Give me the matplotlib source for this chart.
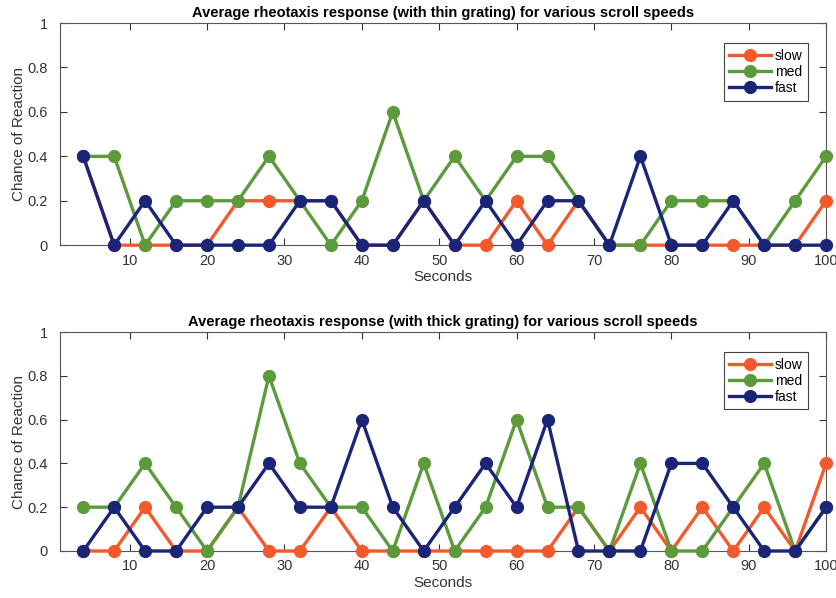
import matplotlib.pyplot as plt
import numpy as np

plt.rcParams["font.family"] = ["Liberation Sans", "DejaVu Sans"]

# time points (seconds), one sample every 4 s
seconds = np.arange(4, 101, 4)

# thin grating
thin_slow = [0.4, 0, 0, 0, 0, 0.2, 0.2, 0.2, 0.2, 0, 0, 0.2, 0, 0, 0.2, 0, 0.2,
             0, 0, 0, 0, 0, 0, 0, 0.2]
thin_med = [0.4, 0.4, 0, 0.2, 0.2, 0.2, 0.4, 0.2, 0, 0.2, 0.6, 0.2, 0.4, 0.2,
            0.4, 0.4, 0.2, 0, 0, 0.2, 0.2, 0.2, 0, 0.2, 0.4]
thin_fast = [0.4, 0, 0.2, 0, 0, 0, 0, 0.2, 0.2, 0, 0, 0.2, 0, 0.2, 0, 0.2, 0.2,
             0, 0.4, 0, 0, 0.2, 0, 0, 0]

# thick grating
thick_slow = [0, 0, 0.2, 0, 0, 0.2, 0, 0, 0.2, 0, 0, 0, 0, 0, 0, 0, 0.2, 0,
              0.2, 0, 0.2, 0, 0.2, 0, 0.4]
thick_med = [0.2, 0.2, 0.4, 0.2, 0, 0.2, 0.8, 0.4, 0.2, 0.2, 0, 0.4, 0, 0.2,
             0.6, 0.2, 0.2, 0, 0.4, 0, 0, 0.2, 0.4, 0, 0.2]
thick_fast = [0, 0.2, 0, 0, 0.2, 0.2, 0.4, 0.2, 0.2, 0.6, 0.2, 0, 0.2, 0.4,
              0.2, 0.6, 0, 0, 0, 0.4, 0.4, 0.2, 0, 0, 0.2]

labels = ["slow", "med", "fast"]
colors = ["#f25a2c", "#5c9a3c", "#1b2577"]

panels = [
    ("Average rheotaxis response (with thin grating) for various scroll speeds",
     [thin_slow, thin_med, thin_fast]),
    ("Average rheotaxis response (with thick grating) for various scroll speeds",
     [thick_slow, thick_med, thick_fast]),
]

fig = plt.figure(figsize=(8.37, 5.98), dpi=100)
ax_top = fig.add_axes([0.0717, 0.590, 0.9153, 0.3715])
ax_bot = fig.add_axes([0.0717, 0.0786, 0.9153, 0.3662])

for ax, (title, series) in zip([ax_top, ax_bot], panels):
    for vals, lab, col in zip(series, labels, colors):
        ax.plot(seconds, vals, color=col, lw=2.4, marker="o", ms=8.5,
                label=lab, clip_on=False, zorder=3)
    ax.set_xlim(1, 100)
    ax.set_ylim(0, 1)
    ax.set_xticks(range(10, 101, 10))
    ax.set_yticks([0, 0.2, 0.4, 0.6, 0.8, 1])
    ax.set_yticklabels(["0", "0.2", "0.4", "0.6", "0.8", "1"])
    ax.tick_params(direction="in", top=True, right=True, labelsize=10.5,
                   colors="#333333", length=5, width=0.8)
    ax.tick_params(axis="x", pad=6)
    ax.tick_params(axis="y", pad=9)
    for s in ax.spines.values():
        s.set_color("#555555")
        s.set_linewidth(0.8)
    ax.set_title(title, fontsize=10.5, fontweight="bold", pad=4)
    ax.set_xlabel("Seconds", fontsize=11, labelpad=2, color="#333333")
    ax.set_ylabel("Chance of Reaction", fontsize=11, labelpad=1, color="#333333")
    leg = ax.legend(loc="upper right", bbox_to_anchor=(0.986, 0.94),
                    fontsize=10, handlelength=3.0, borderpad=0.4,
                    labelspacing=0.15, handletextpad=0.3, fancybox=False,
                    framealpha=1)
    leg.get_frame().set_edgecolor("#444444")
    leg.get_frame().set_linewidth(0.8)

fig.savefig("out.png", dpi=100)
